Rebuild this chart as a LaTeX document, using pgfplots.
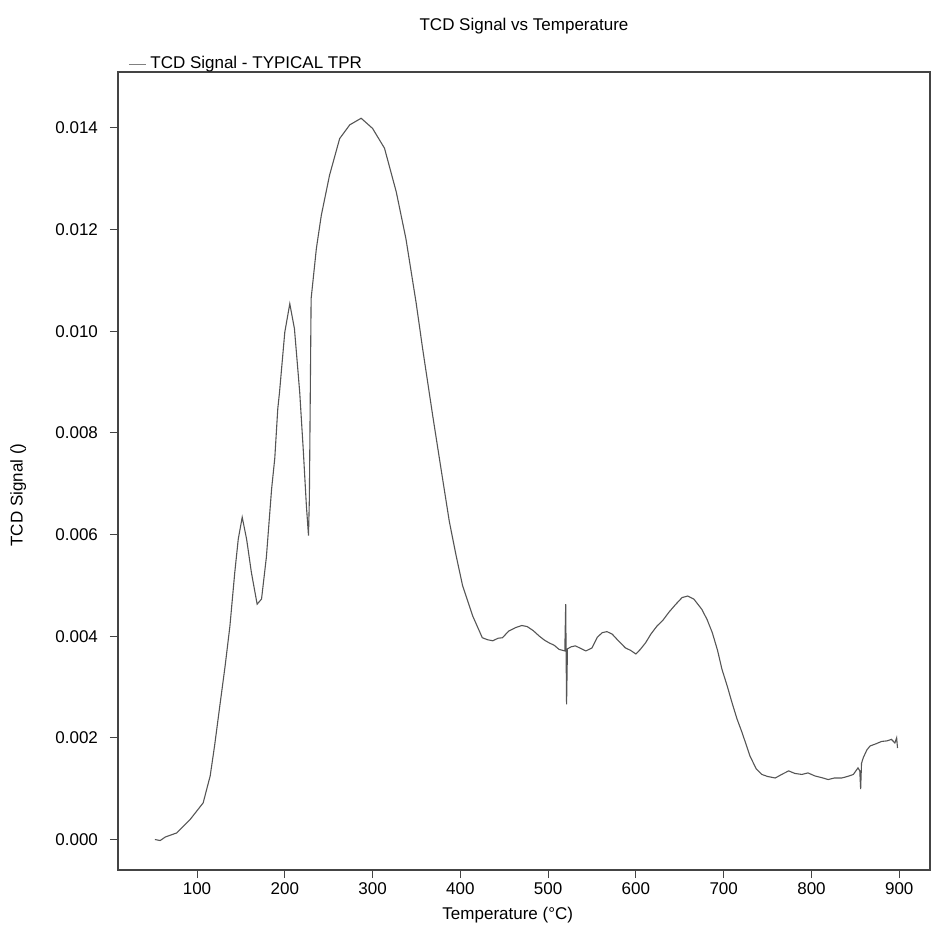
\documentclass[border=0pt]{standalone}
\usepackage{pgfplots}
\pgfplotsset{compat=1.18}
\usepackage{fontspec}
\setmainfont{Liberation Sans}

\definecolor{trace}{HTML}{555555}
\definecolor{frame}{HTML}{444444}

\begin{document}
\begin{tikzpicture}
\path[use as bounding box] (-59pt,-40pt) rectangle (408.5pt,435pt);
\begin{axis}[
  at={(0,0)}, anchor=south west,
  scale only axis,
  width=406pt, height=399pt,
  xmin=10, xmax=935,
  ymin=-0.0006, ymax=0.0151,
  xtick={100,200,...,900},
  ytick={0,0.002,...,0.014},
  scaled y ticks=false,
  yticklabel style={xshift=-2.5pt, /pgf/number format/.cd, fixed, fixed zerofill, precision=3},
  /pgf/number format/assume math mode=true,
  tick align=outside,
  major tick length=4pt,
  xtick pos=bottom, ytick pos=left,
  axis line style={frame, line width=0.6pt},
  tick style={frame, line width=0.5pt},
  font=\fontsize{8.5}{10}\selectfont,
  tick label style={font=\fontsize{8.5}{10}\selectfont},
  xticklabel style={yshift=1pt},
  title={TCD Signal vs Temperature},
  title style={at={(0.5,1)}, anchor=center, yshift=17pt, font=\fontsize{8.5}{10}\selectfont},
  xlabel={Temperature (°C)},
  ylabel={TCD Signal ()},
  xlabel style={at={(axis description cs:0.48,0)}, anchor=center, yshift=-22.5pt},
  ylabel style={at={(axis description cs:-0.123,0.47)}, anchor=center},
  legend style={at={(0.01,1)}, anchor=south west, draw=none, fill=none,
    font=\fontsize{8.5}{10}\selectfont, inner sep=1pt, yshift=-3pt},
  legend cell align=left,
  legend image post style={line width=0.4pt, gray},
  legend image code/.code={\draw[#1] (0cm,0cm) -- (0.3cm,0cm);},
]
\addplot[trace, line width=0.55pt] coordinates {
(52,0.0000) (58,-0.00002) (64,0.00005) (77,0.00013) (92,0.00039) (107,0.00072)
(115,0.00125) (120,0.00184) (126,0.00263) (132,0.00341) (137.5,0.0042)
(143,0.00525) (147,0.00591) (151.5,0.00634) (156.5,0.00591) (162,0.00525)
(168.5,0.00463) (173.5,0.00473) (179,0.00555) (185,0.0069) (188.6,0.0075)
(192,0.00847) (194,0.0088) (200,0.00998) (205.7,0.01054) (211,0.01005)
(217,0.0088) (221,0.00768) (224.6,0.00657) (227,0.00598) (228,0.0067)
(229,0.00867) (230,0.01064) (236,0.01163) (241.6,0.01228) (251,0.01307)
(262.5,0.01379) (274,0.01406) (287,0.01419) (300,0.01399) (313.6,0.0136)
(327,0.01274) (338,0.01182) (349.7,0.01055) (357,0.00966) (368.5,0.00834)
(378,0.00729) (387.5,0.00625) (395,0.0056) (402.6,0.00499) (414,0.0044)
(425,0.00397) (431,0.00393) (437,0.00391) (443,0.00396) (448,0.00397)
(455,0.0041) (463,0.00417) (470,0.00421) (476,0.00419) (483,0.00411)
(490,0.004) (496,0.00392) (501,0.00387) (507,0.00382) (512.5,0.00374)
(519,0.00371) (520,0.00463) (521,0.00266) (522,0.00375) (526,0.00379)
(531,0.00381) (537,0.00376) (543,0.00371) (550,0.00377) (556,0.00398)
(561.7,0.00407) (567,0.00409) (573,0.00404) (580,0.00391) (588,0.00377)
(594,0.00372) (600,0.00365) (605,0.00374) (611,0.00387) (617,0.00404)
(624,0.0042) (631,0.00432) (637.5,0.00447) (645,0.00462) (652.6,0.00476)
(659,0.00479) (666,0.00473) (675,0.00453) (681,0.00433) (687,0.00407)
(693,0.00372) (698,0.00335) (704,0.00302) (709.5,0.00269) (715,0.00238)
(721,0.0021) (730,0.00164) (737,0.00139) (743.5,0.00128) (750,0.00124)
(758.7,0.00121) (766,0.00128) (774,0.00135) (781,0.0013) (789,0.00128)
(796,0.00131) (804,0.00125) (811,0.00122) (819,0.00118) (826,0.00121)
(834.4,0.00121) (841,0.00124) (847.7,0.00128) (853,0.00141) (855,0.00135)
(856,0.00099) (857,0.0015) (859,0.00161) (863,0.00176) (866.7,0.00184)
(873,0.00188) (880,0.00193) (886,0.00194) (891,0.00197) (895,0.0019)
(897,0.0020) (898,0.0018)
};
\addlegendentry{TCD Signal - TYPICAL TPR}
\end{axis}
\end{tikzpicture}
\end{document}
